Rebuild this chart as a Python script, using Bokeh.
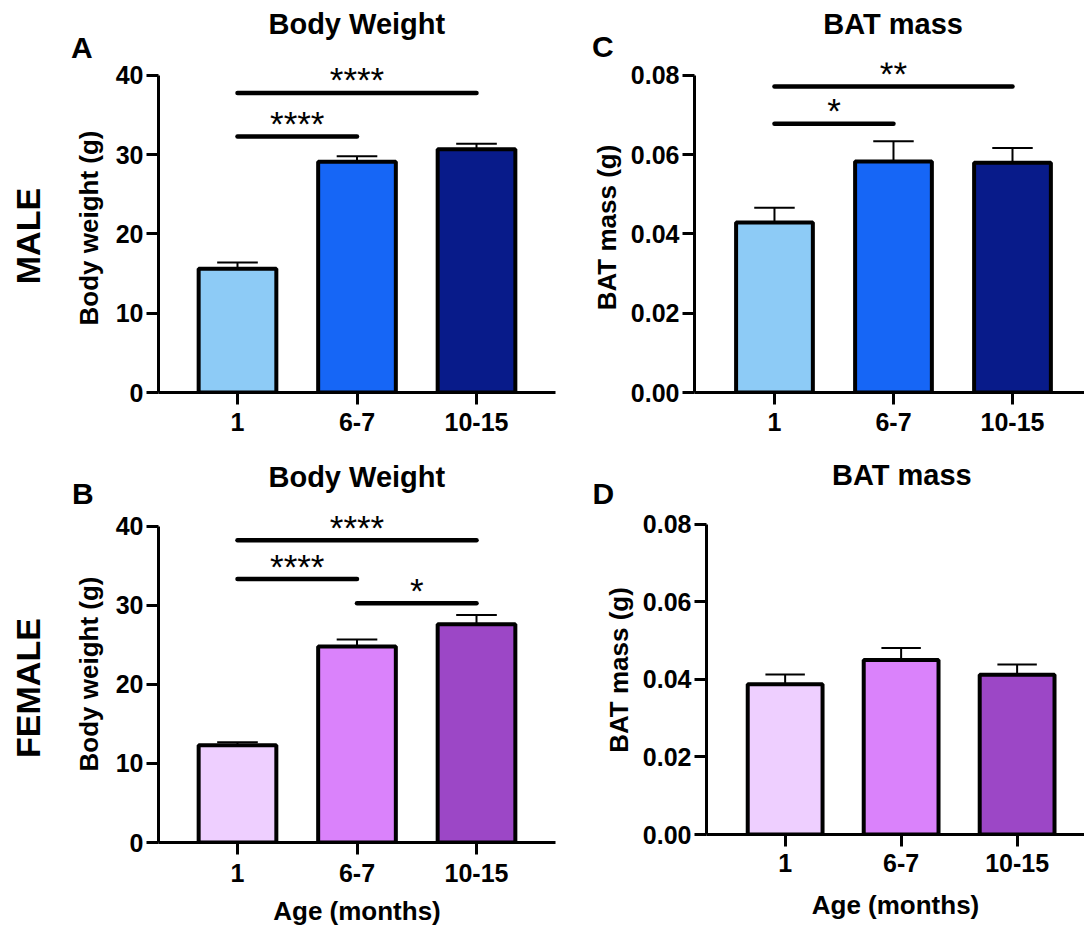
from bokeh.plotting import figure
from bokeh.models import FixedTicker, NumeralTickFormatter, Title
from bokeh.layouts import column, row
from bokeh.embed import file_html
from bokeh.resources import INLINE
from bokeh.core.properties import value

# ---------------- data ----------------
age_groups = ["1", "6-7", "10-15"]

male_bw_mean = [15.6, 29.1, 30.7]
male_bw_err = [0.8, 0.7, 0.7]
male_bat_mean = [0.0429, 0.0583, 0.0580]
male_bat_err = [0.0037, 0.0051, 0.0037]

female_bw_mean = [12.3, 24.8, 27.6]
female_bw_err = [0.4, 0.9, 1.2]
female_bat_mean = [0.0388, 0.0450, 0.0412]
female_bat_err = [0.0025, 0.0031, 0.0027]

# significance comparisons: (group a, group b, bracket height, label)
male_bw_sig = [(0, 1, 32.3, "****"), (0, 2, 37.8, "****")]
male_bat_sig = [(0, 1, 0.0678, "*"), (0, 2, 0.0772, "**")]
female_bw_sig = [(0, 2, 38.24, "****"), (0, 1, 33.33, "****"), (1, 2, 30.28, "*")]
female_bat_sig = []

male_colors = ["#8DCBF6", "#1666F6", "#081B8A"]
female_colors = ["#EECFFF", "#DA82FB", "#9C47C6"]

bw_ticks = [0, 10, 20, 30, 40]
bat_ticks = [0, 0.02, 0.04, 0.06, 0.08]

FONT = "Liberation Sans"


def make_title(text, size, align, offset, standoff):
    return Title(text=text, align=align, offset=offset, standoff=standoff,
                 text_font=FONT, text_font_size=size, text_font_style="bold",
                 text_color="black")


def no_align(p):
    if "frame_align" in p.properties():
        p.frame_align = False


def make_panel(means, errs, colors, sig, ticks, y_end, x_rng, size, borders,
               ylab, xlab, fmt, bar_w, title, title_offset, title_standoff,
               letter, letter_offset, letter_standoff,
               xlab_standoff=0, tick_standoff=8, ylab_standoff=9):
    xs = list(range(len(age_groups)))
    p = figure(width=size[0], height=size[1], x_range=x_rng, y_range=(0, y_end),
               output_backend="svg", toolbar_location=None, title=None,
               min_border_left=borders[0], min_border_right=borders[1],
               min_border_top=borders[2], min_border_bottom=borders[3])
    no_align(p)
    p.outline_line_color = None
    p.grid.visible = False
    p.background_fill_color = "white"
    p.border_fill_color = "white"

    # panel letter (nearest the frame), then the panel title above it
    p.add_layout(make_title(letter, "30px", "left", letter_offset, letter_standoff), "above")
    p.add_layout(make_title(title, "29px", "left", title_offset, title_standoff), "above")

    tops = [m + e for m, e in zip(means, errs)]
    cap = 0.17
    p.segment(x0=xs, y0=means, x1=xs, y1=tops, line_color="black", line_width=2)
    p.segment(x0=[x - cap for x in xs], y0=tops, x1=[x + cap for x in xs], y1=tops,
              line_color="black", line_width=2)
    p.vbar(x=xs, top=means, width=bar_w, bottom=0, fill_color=colors,
           line_color="black", line_width=4)

    if sig:
        p.segment(x0=[s[0] for s in sig], y0=[s[2] for s in sig],
                  x1=[s[1] for s in sig], y1=[s[2] for s in sig],
                  line_color="black", line_width=4.5, line_cap="round")
        p.text(x=[(s[0] + s[1]) / 2 for s in sig], y=[s[2] for s in sig],
               text=[s[3] for s in sig], text_align="center",
               text_baseline="alphabetic", text_font=value(FONT),
               text_font_size="35px", text_color="black", y_offset=-13)

    for ax in (p.xaxis[0], p.yaxis[0]):
        ax.axis_line_width = 3
        ax.axis_line_color = "black"
        ax.major_tick_line_width = 3
        ax.major_tick_line_color = "black"
        ax.major_tick_out = 12
        ax.major_tick_in = 0
        ax.minor_tick_out = 0
        ax.minor_tick_in = 0
        ax.major_label_text_font = FONT
        ax.major_label_text_font_size = "25px"
        ax.major_label_text_font_style = "bold"
        ax.major_label_text_color = "black"
        ax.axis_label_text_font = FONT
        ax.axis_label_text_font_size = "26px"
        ax.axis_label_text_font_style = "bold"
        ax.axis_label_text_color = "black"

    p.xaxis.ticker = FixedTicker(ticks=xs)
    p.xaxis.major_label_overrides = {i: g for i, g in enumerate(age_groups)}
    p.xaxis.major_label_standoff = tick_standoff
    if xlab:
        p.xaxis.axis_label = xlab
        p.xaxis.axis_label_standoff = xlab_standoff

    p.yaxis.ticker = FixedTicker(ticks=ticks)
    p.yaxis.bounds = (ticks[0], ticks[-1])
    p.yaxis.major_label_standoff = 3
    p.yaxis.axis_label = ylab
    p.yaxis.axis_label_standoff = ylab_standoff
    if fmt:
        p.yaxis.formatter = NumeralTickFormatter(format=fmt)
    return p


def row_header(text, height, offset):
    # narrow strip holding only the rotated row heading
    h = figure(width=56, height=height, output_backend="svg", toolbar_location=None,
               title=None, x_axis_location=None, y_axis_location=None,
               min_border_left=50, min_border_right=0, min_border_top=0,
               min_border_bottom=0)
    no_align(h)
    h.outline_line_color = None
    h.grid.visible = False
    h.add_layout(make_title(text, "34px", "left", offset, 12), "left")
    return h


pA = make_panel(male_bw_mean, male_bw_err, male_colors, male_bw_sig, bw_ticks,
                41.51, (-0.661, 2.661), (500, 460), (102, 1, 63, 68),
                "Body weight (g)", None, None, 0.65,
                "Body Weight", 110, -23.2, "A", -87.4, 0,
                tick_standoff=8, ylab_standoff=9)

pC = make_panel(male_bat_mean, male_bat_err, male_colors, male_bat_sig, bat_ticks,
                0.08328, (-0.672, 2.605), (528, 460), (138, 0, 62, 68),
                "BAT mass (g)", None, "0.00", 0.645,
                "BAT mass", 128.8, -25.2, "C", -102.6, 0,
                tick_standoff=8, ylab_standoff=6)

pB = make_panel(female_bw_mean, female_bw_err, female_colors, female_bw_sig, bw_ticks,
                42.64, (-0.661, 2.661), (500, 468), (102, 1, 45, 84),
                "Body weight (g)", "Age (months)", None, 0.65,
                "Body Weight", 110, -26, "B", -86.4, -9.4,
                xlab_standoff=11, tick_standoff=9, ylab_standoff=9)

pD = make_panel(female_bat_mean, female_bat_err, female_colors, female_bat_sig, bat_ticks,
                0.0849, (-0.678, 2.581), (528, 468), (150, 0, 45, 94),
                "BAT mass (g)", "Age (months)", "0.00", 0.645,
                "BAT mass", 125.5, -23.6, "D", -114, -8.8,
                xlab_standoff=15, tick_standoff=7, ylab_standoff=6)

male_head = row_header("MALE", 460, 176.3)
female_head = row_header("FEMALE", 468, 170.6)

layout = row(column(male_head, female_head),
             column(row(pA, pC), row(pB, pD)))
open("out.html", "w").write(file_html(layout, INLINE))
